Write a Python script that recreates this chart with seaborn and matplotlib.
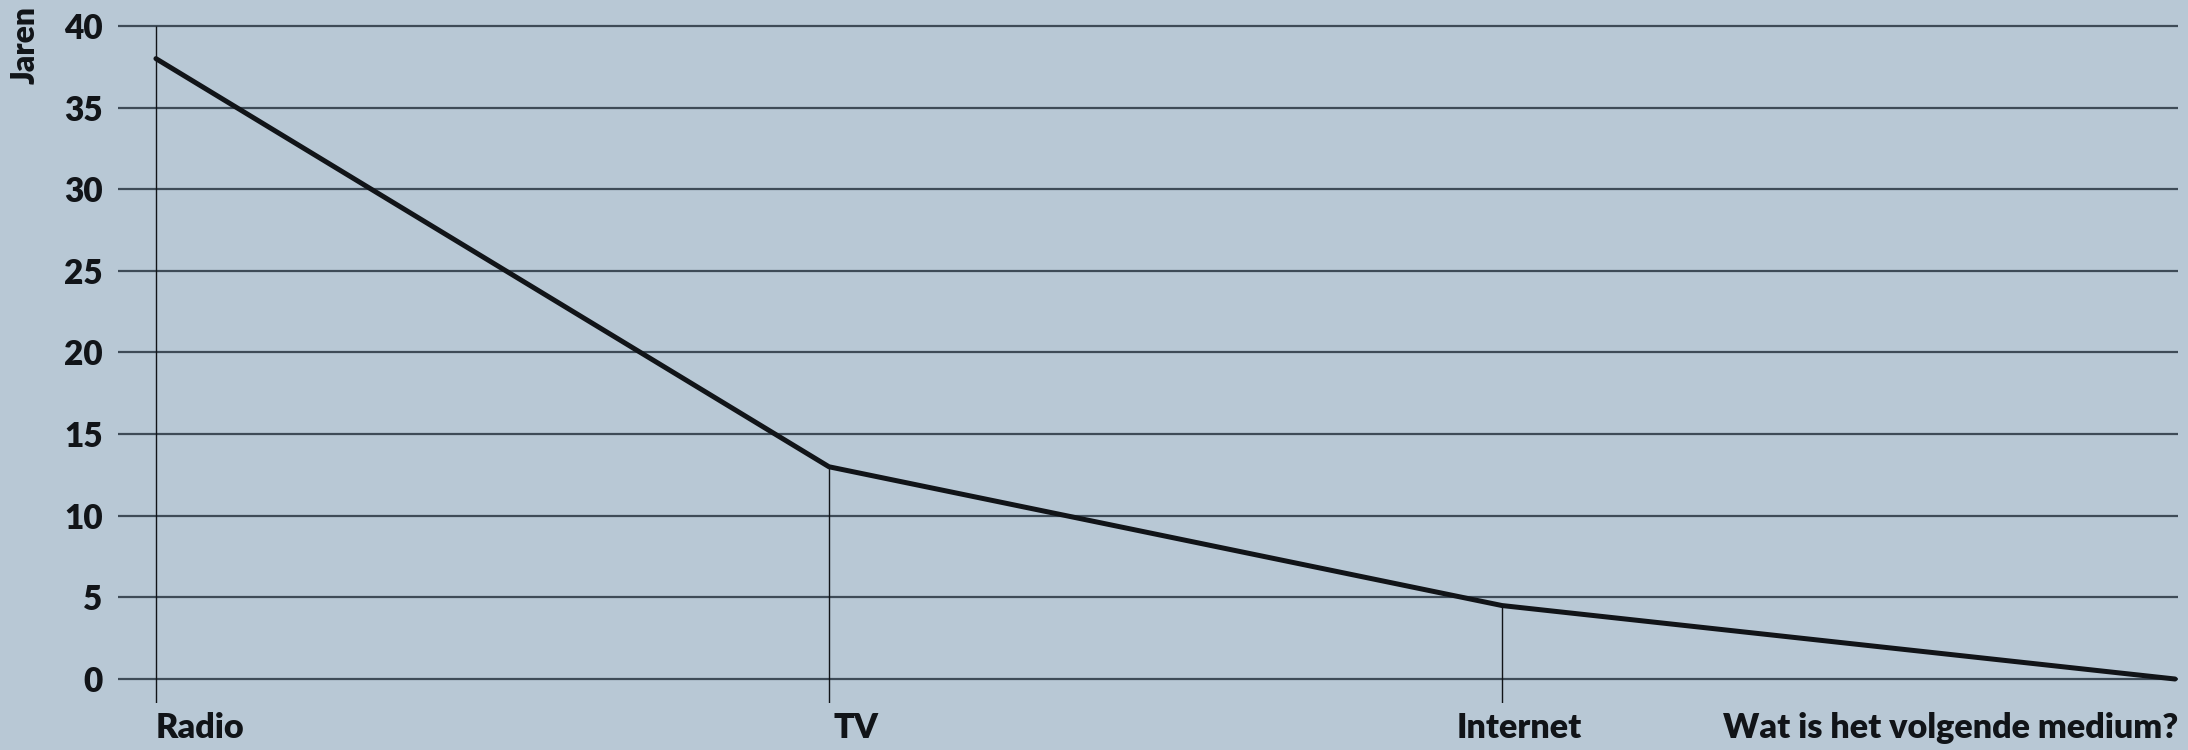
import matplotlib
matplotlib.use("Agg")
import matplotlib.pyplot as plt
import seaborn as sns
import pandas as pd

# Years needed to reach the audience, per medium
media = ["Radio", "TV", "Internet", "Wat is het volgende medium?"]
jaren = [38, 13, 4.5, 0]
y_ticks = [0, 5, 10, 15, 20, 25, 30, 35, 40]

BG = "#b8c8d5"
INK = "#111418"
GRID = "#3e4b57"

sns.set_theme(style="white")
plt.rcParams["font.family"] = ["Lato", "DejaVu Sans"]

df = pd.DataFrame({"positie": range(len(media)), "jaren": jaren})

fig = plt.figure(figsize=(21.88, 7.5), dpi=100, facecolor=BG)
ax = fig.add_axes([0.0539, 0.0631, 0.9956 - 0.0539, 0.9708 - 0.0631])
ax.set_facecolor(BG)

ax.set_xlim(-0.0565, 3.005)
ax.set_ylim(-1.45, 40.25)

# horizontal grid at each tick value
for v in y_ticks:
    ax.axhline(v, color=GRID, lw=1.6, zorder=1)

# drop lines from each medium down below the axis
ax.vlines(df["positie"][:3], ymin=-1.45, ymax=[40, jaren[1], jaren[2]],
          color=INK, lw=1.0, zorder=2)

sns.lineplot(data=df, x="positie", y="jaren", color=INK, lw=3.6,
             ax=ax, zorder=3, clip_on=False)

for s in ax.spines.values():
    s.set_visible(False)

ax.set_yticks(y_ticks)
ax.set_yticklabels([str(v) for v in y_ticks], fontsize=24, fontweight="heavy",
                   color=INK)
ax.tick_params(axis="y", length=0, pad=11)

ax.set_xticks(df["positie"])
ax.set_xticklabels([])
aligns = ["left", "left", "center", "right"]
offsets = [0.0, 0.006, 0.025, 0.005]
for i, (lab, ha) in enumerate(zip(media, aligns)):
    ax.text(i + offsets[i], -1.45 - 0.55, lab, ha=ha, va="top", fontsize=24.6,
            fontweight="heavy", color=INK, transform=ax.transData)
ax.tick_params(axis="x", length=0)

ax.set_xlabel("")
ax.set_ylabel("")
fig.text(0.0115, 0.992, "Jaren", rotation=90, ha="center", va="top",
         fontsize=23, fontweight="heavy", color=INK)

fig.savefig("out.png", dpi=100, facecolor=BG)
